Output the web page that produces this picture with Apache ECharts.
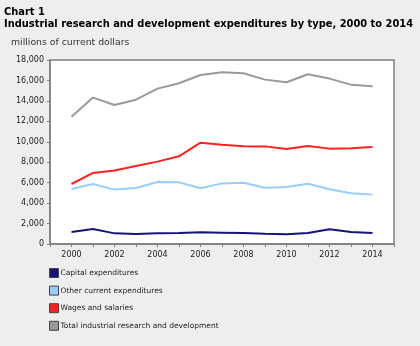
<!DOCTYPE html>
<html>
<head>
<meta charset="utf-8">
<script src="https://cdn.jsdelivr.net/npm/echarts@6/dist/echarts.min.js"></script>
<style>
  html, body { margin: 0; padding: 0; background: #eeeeee; }
  #chart { width: 420px; height: 346px; }
</style>
</head>
<body>
<div id="chart"></div>
<script>
// Years on the horizontal axis
const years = [2000, 2001, 2002, 2003, 2004, 2005, 2006, 2007, 2008, 2009, 2010, 2011, 2012, 2013, 2014];

// Expenditures, millions of current dollars
const capital = [1170, 1470, 1040, 980, 1040, 1080, 1140, 1110, 1080, 1010, 950, 1080, 1440, 1170, 1080];
const otherCurrent = [5380, 5870, 5320, 5480, 6060, 6030, 5450, 5930, 6000, 5510, 5580, 5900, 5350, 4960, 4830];
const wages = [5870, 6950, 7200, 7630, 8060, 8580, 9910, 9720, 9560, 9550, 9290, 9590, 9330, 9360, 9490];
const total = [12450, 14320, 13600, 14120, 15200, 15720, 16530, 16800, 16700, 16080, 15820, 16600, 16180, 15590, 15430];

const seriesNames = [
  'Capital expenditures',
  'Other current expenditures',
  'Wages and salaries',
  'Total industrial research and development'
];
const seriesColors = ['#14147a', '#99ccff', '#ff2020', '#999999'];
const seriesValues = [capital, otherCurrent, wages, total];

const FONT = 'DejaVu Sans';

const chart = echarts.init(document.getElementById('chart'), null, { renderer: 'canvas' });

chart.setOption({
  backgroundColor: '#eeeeee',
  animation: false,
  title: [
    {
      text: 'Chart 1',
      left: 4, top: 7, padding: 0,
      textStyle: { fontFamily: FONT, fontSize: 9.9, fontWeight: 'bold', color: '#000' }
    },
    {
      text: 'Industrial research and development expenditures by type, 2000 to 2014',
      left: 4, top: 19, padding: 0,
      textStyle: { fontFamily: FONT, fontSize: 9.9, fontWeight: 'bold', color: '#000' }
    },
    {
      text: 'millions of current dollars',
      left: 11, top: 38, padding: 0,
      textStyle: { fontFamily: FONT, fontSize: 9.3, fontWeight: 'normal', color: '#333' }
    }
  ],
  legend: {
    orient: 'vertical',
    left: 49, top: 268, padding: 0,
    itemWidth: 9, itemHeight: 9, itemGap: 7.6,
    icon: 'rect',
    textStyle: { fontFamily: FONT, fontSize: 7.5, color: '#222', padding: [0, 0, 0, -3] },
    data: seriesNames.map((n, i) => ({
      name: n,
      itemStyle: { color: seriesColors[i], borderColor: '#444', borderWidth: 1 }
    }))
  },
  grid: {
    left: 50, right: 26, top: 60, bottom: 102,
    show: true, backgroundColor: '#ffffff', borderColor: '#808080', borderWidth: 1.5
  },
  xAxis: {
    type: 'value',
    min: 1999, max: 2015, interval: 1,
    axisLine: { show: true, lineStyle: { color: '#808080', width: 1.5 } },
    axisTick: { show: true, length: 3, lineStyle: { color: '#808080' } },
    splitLine: { show: false },
    axisLabel: {
      fontFamily: FONT, fontSize: 8, color: '#222', margin: 7,
      showMinLabel: true, showMaxLabel: true,
      formatter: v => (v >= 2000 && v <= 2014 && v % 2 === 0) ? String(v) : ''
    }
  },
  yAxis: {
    type: 'value',
    min: 0, max: 18000, interval: 2000,
    axisLine: { show: true, lineStyle: { color: '#808080', width: 1.5 } },
    axisTick: { show: true, length: 3, lineStyle: { color: '#808080' } },
    splitLine: { show: false },
    axisLabel: {
      fontFamily: FONT, fontSize: 8, color: '#222', margin: 6,
      formatter: v => v.toLocaleString('en-US')
    }
  },
  series: seriesNames.map((n, i) => ({
    name: n,
    type: 'line',
    showSymbol: false,
    symbol: 'none',
    color: seriesColors[i],
    lineStyle: { color: seriesColors[i], width: 2 },
    data: years.map((y, j) => [y, seriesValues[i][j]])
  }))
});
</script>
</body>
</html>
